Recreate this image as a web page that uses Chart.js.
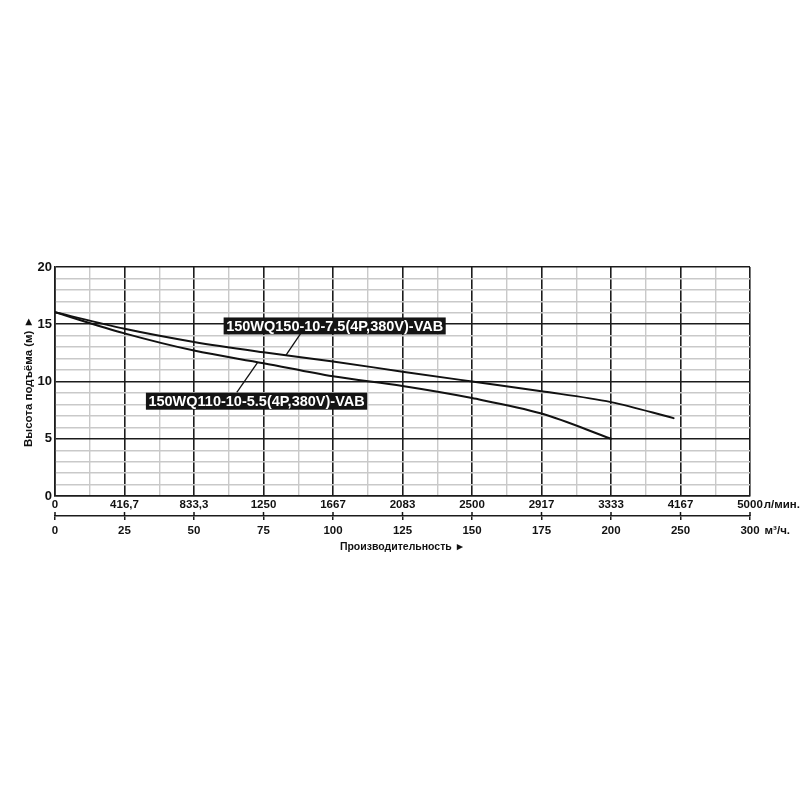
<!DOCTYPE html>
<html><head><meta charset="utf-8">
<script src="https://cdn.jsdelivr.net/npm/chart.js@4"></script>
<style>html,body{margin:0;padding:0;background:#fff;overflow:hidden}#wrap{width:800px;height:800px;position:relative}</style>
</head><body><div id="wrap"><canvas id="c"></canvas></div>
<script>
// ---- data ----
const flowM3hTicks = [0, 25, 50, 75, 100, 125, 150, 175, 200, 250, 300];
const flowLminLabels = ['0', '416,7', '833,3', '1250', '1667', '2083', '2500', '2917', '3333', '4167', '5000'];
const headTicks = [0, 5, 10, 15, 20];
const seriesNames = ['150WQ150-10-7.5(4P,380V)-VAB', '150WQ110-10-5.5(4P,380V)-VAB'];
const flowA = [0, 25, 50, 75, 100, 125, 150, 175, 200, 245];
const headA = [16.05, 14.6, 13.45, 12.55, 11.75, 10.86, 10.0, 9.15, 8.2, 6.8];
const flowB = [0, 25, 50, 75, 100, 125, 150, 175, 200];
const headB = [16.05, 14.2, 12.7, 11.6, 10.45, 9.6, 8.55, 7.2, 5.0];
const yTitle = 'Высота подъёма (м) ►';
const xTitle = 'Производительность ►';
const unitLmin = 'л/мин.';
const unitM3h = 'м³/ч.';

// ---- styling ----
const FONT = '"Liberation Sans", Arial, Helvetica, sans-serif';
const INK = '#111';
const MAJOR = '#1c1c1c';
const MINOR = '#c9c9c9';

// label placement (in data units)
const labelPlacement = [
  { at: [100.6, 14.85], leader: [[88.4, 14.2], [83.1, 12.31]] },
  { at: [72.5, 8.28], leader: [[72.9, 11.68], [65.4, 9.06]] }
];

// grid positions: major flow ticks plus the midpoints between them
const flowGrid = [];
flowM3hTicks.forEach((v, i) => {
  flowGrid.push(v);
  if (i < flowM3hTicks.length - 1) flowGrid.push((v + flowM3hTicks[i + 1]) / 2);
});
const headGrid = [];
for (let h = 0; h <= 20; h++) headGrid.push(h);

// scale whose labelled ticks are evenly spaced (the printed axis is non-uniform above 200 m³/h)
class BrokenLinearScale extends Chart.LinearScale {
  getPixelForValue(value) {
    const b = flowM3hTicks;
    let i = 0;
    while (i < b.length - 2 && value > b[i + 1]) i++;
    const pos = i + (value - b[i]) / (b[i + 1] - b[i]);
    return this.getPixelForDecimal(pos / (b.length - 1));
  }
  getValueForPixel(pixel) {
    const b = flowM3hTicks;
    const pos = this.getDecimalForPixel(pixel) * (b.length - 1);
    const i = Math.max(0, Math.min(b.length - 2, Math.floor(pos)));
    return b[i] + (pos - i) * (b[i + 1] - b[i]);
  }
}
BrokenLinearScale.id = 'broken';
BrokenLinearScale.defaults = {};
Chart.register(BrokenLinearScale);

const isMajorFlow = v => flowM3hTicks.includes(v);
const isMajorHead = v => headTicks.includes(v);

const extras = {
  id: 'extras',
  beforeDraw(chart) {
    const ctx = chart.ctx;
    ctx.save();
    ctx.fillStyle = '#fff';
    ctx.fillRect(0, 0, chart.width, chart.height);
    ctx.restore();
  },
  afterDatasetsDraw(chart) {
    const { ctx, scales: { x, y } } = chart;
    ctx.save();
    // leader lines
    ctx.strokeStyle = INK;
    ctx.lineWidth = 1.3;
    labelPlacement.forEach(p => {
      ctx.beginPath();
      ctx.moveTo(x.getPixelForValue(p.leader[0][0]), y.getPixelForValue(p.leader[0][1]));
      ctx.lineTo(x.getPixelForValue(p.leader[1][0]), y.getPixelForValue(p.leader[1][1]));
      ctx.stroke();
    });
    // labels
    ctx.font = 'bold 14.5px ' + FONT;
    ctx.textAlign = 'center';
    ctx.textBaseline = 'middle';
    labelPlacement.forEach((p, i) => {
      const txt = seriesNames[i];
      const w = ctx.measureText(txt).width + 5;
      const h = 17;
      const cx = x.getPixelForValue(p.at[0]);
      const cy = y.getPixelForValue(p.at[1]);
      ctx.fillStyle = '#141414';
      ctx.fillRect(cx - w / 2, cy - h / 2, w, h);
      ctx.fillStyle = '#fff';
      ctx.fillText(txt, cx, cy + 1);
    });
    ctx.restore();
  },
  afterDraw(chart) {
    const { ctx, scales: { x, x2 } } = chart;
    ctx.save();
    // upper halves of the tick marks on the m³/h axis
    ctx.strokeStyle = INK;
    ctx.lineWidth = 1.5;
    flowM3hTicks.forEach(v => {
      const px = x2.getPixelForValue(v);
      ctx.beginPath();
      ctx.moveTo(px, x2.top - 4);
      ctx.lineTo(px, x2.top);
      ctx.stroke();
    });
    // unit captions
    ctx.font = 'bold 11.5px ' + FONT;
    ctx.fillStyle = INK;
    ctx.textAlign = 'left';
    ctx.textBaseline = 'middle';
    const last = flowM3hTicks[flowM3hTicks.length - 1];
    const pxL = x.getPixelForValue(last) + ctx.measureText(flowLminLabels[flowLminLabels.length - 1]).width / 2 + 1;
    ctx.fillText(unitLmin, pxL, x.top + 2 + 6.9);
    const pxM = x2.getPixelForValue(last) + ctx.measureText(String(last)).width / 2 + 5;
    ctx.fillText(unitM3h, pxM, x2.top + 4 + 4 + 6.9);
    ctx.restore();
  }
};

const mk = (fx, hy) => fx.map((v, i) => ({ x: v, y: hy[i] }));

new Chart(document.getElementById('c'), {
  type: 'line',
  data: {
    datasets: [
      { label: seriesNames[0], data: mk(flowA, headA) },
      { label: seriesNames[1], data: mk(flowB, headB) }
    ]
  },
  options: {
    responsive: true,
    maintainAspectRatio: false,
    animation: false,
    events: [],
    layout: { padding: { left: 0, right: 50, top: 267, bottom: 246 } },
    elements: {
      point: { radius: 0 },
      line: { borderColor: INK, borderWidth: 2, cubicInterpolationMode: 'monotone', fill: false, borderCapStyle: 'round' }
    },
    plugins: { legend: { display: false }, tooltip: { enabled: false } },
    scales: {
      x: {
        type: 'broken', position: 'bottom', weight: 0, min: 0, max: 300,
        afterBuildTicks: s => { s.ticks = flowGrid.map(v => ({ value: v })); },
        afterFit: s => { s.height = 20; },
        grid: {
          drawTicks: false,
          color: c => (c.tick && isMajorFlow(c.tick.value)) ? MAJOR : MINOR,
          lineWidth: c => (c.tick && isMajorFlow(c.tick.value)) ? 1.6 : 1.4
        },
        border: { display: true, color: MAJOR, width: 1.6 },
        ticks: {
          autoSkip: false, maxRotation: 0, minRotation: 0, padding: 2, color: INK,
          font: { family: FONT, size: 11.5, weight: 'bold' },
          callback: v => { const i = flowM3hTicks.indexOf(v); return i < 0 ? '' : flowLminLabels[i]; }
        }
      },
      x2: {
        type: 'broken', position: 'bottom', weight: 1, min: 0, max: 300,
        afterBuildTicks: s => { s.ticks = flowM3hTicks.map(v => ({ value: v })); },
        afterFit: s => { s.height = 38; },
        grid: { drawOnChartArea: false, drawTicks: true, tickLength: 4, color: MAJOR, lineWidth: 1.5 },
        border: { display: true, color: MAJOR, width: 1.5 },
        ticks: {
          autoSkip: false, maxRotation: 0, minRotation: 0, padding: 4, color: INK,
          font: { family: FONT, size: 11.5, weight: 'bold' },
          callback: v => String(v)
        },
        title: {
          display: true, text: xTitle, color: INK,
          font: { family: FONT, size: 10.5, weight: 'bold' },
          padding: { top: 0, bottom: 1 }
        }
      },
      y: {
        type: 'linear', position: 'left', min: 0, max: 20,
        afterBuildTicks: s => { s.ticks = headGrid.map(v => ({ value: v })); },
        afterFit: s => { s.width = 55; },
        grid: {
          drawTicks: false,
          color: c => (c.tick && isMajorHead(c.tick.value)) ? MAJOR : MINOR,
          lineWidth: c => (c.tick && isMajorHead(c.tick.value)) ? 1.6 : 1.4
        },
        border: { display: true, color: MAJOR, width: 1.6 },
        ticks: {
          autoSkip: false, padding: 3, color: INK,
          font: { family: FONT, size: 13, weight: 'bold' },
          callback: v => isMajorHead(v) ? String(v) : ''
        },
        title: {
          display: true, text: yTitle, color: INK,
          font: { family: FONT, size: 11.5, weight: 'bold' },
          padding: { top: 22, bottom: 0 }
        }
      }
    }
  },
  plugins: [extras]
});
</script>
</body></html>
